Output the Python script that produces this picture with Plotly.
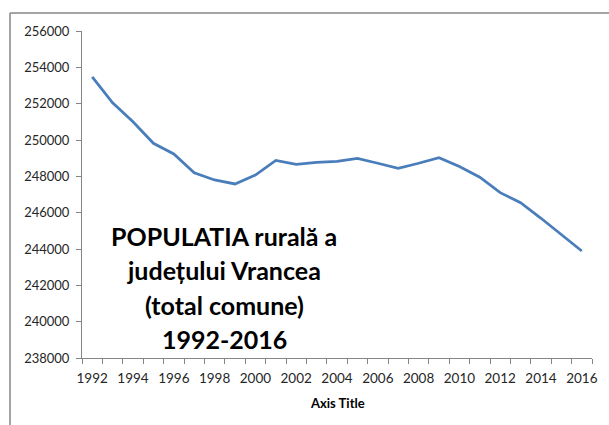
import plotly.graph_objects as go

years = list(range(1992, 2017))
population = [253480, 252050, 251000, 249820, 249230, 248200, 247800, 247580,
              248070, 248880, 248660, 248770, 248830, 248990, 248720, 248440,
              248720, 249030, 248540, 247950, 247100, 246550, 245690, 244770,
              243890]
x_tick_labels = [str(y) for y in range(1992, 2017, 2)]
title_lines = ["POPULATIA rurală a", "județului Vrancea", "(total comune)", "1992-2016"]
x_axis_title = "Axis Title"

FONT = "Lato"
GRAY = "#868686"
TXT = "#262626"

fig = go.Figure()
fig.add_trace(go.Scatter(x=years, y=population, mode="lines",
                         line=dict(color="#4A7EBB", width=2.75), showlegend=False,
                         hoverinfo="x+y"))

L, R, T, B = 82, 17, 31, 67
W, H = 609, 425
pw, ph = W - L - R, H - T - B

def px_x(px):
    return (px - L) / pw

def px_y(py):
    return (H - B - py) / ph

fig.update_layout(
    width=W, height=H,
    margin=dict(l=L, r=R, t=T, b=B, pad=0, autoexpand=False),
    paper_bgcolor="white", plot_bgcolor="white",
    font=dict(family=FONT, color=TXT, size=13),
    xaxis=dict(range=[1991.5, 2016.5], tickmode="array",
               tickvals=[int(v) for v in x_tick_labels], ticktext=x_tick_labels,
               ticks="", showgrid=False, zeroline=False,
               showline=True, linecolor=GRAY, linewidth=1,
               ticklabelstandoff=8, automargin=False,
               tickfont=dict(family=FONT, size=13.5, color=TXT),
               minor=dict(ticks="outside", tick0=1991.5, dtick=1, ticklen=5,
                          tickcolor=GRAY, tickwidth=1, showgrid=False)),
    yaxis=dict(range=[238000, 256000], dtick=2000, tick0=238000,
               tickformat="d",
               ticks="outside", ticklen=5, tickcolor=GRAY, tickwidth=1,
               showgrid=False, zeroline=False,
               showline=True, linecolor=GRAY, linewidth=1,
               ticklabelstandoff=4, automargin=False,
               tickfont=dict(family=FONT, size=13, color=TXT)),
)

# chart outer border (top and left edges visible)
fig.add_shape(type="line", xref="paper", yref="paper",
              x0=px_x(10), y0=px_y(13), x1=px_x(609), y1=px_y(13),
              line=dict(color=GRAY, width=1.5))
fig.add_shape(type="line", xref="paper", yref="paper",
              x0=px_x(10), y0=px_y(13), x1=px_x(10), y1=px_y(425),
              line=dict(color=GRAY, width=1.5))

line_y = [236, 270.3, 304.7, 339]
for txt, yy in zip(title_lines, line_y):
    fig.add_annotation(text=f"<b>{txt}</b>", xref="paper", yref="paper",
                       x=px_x(224), y=px_y(yy), xanchor="center", yanchor="middle",
                       showarrow=False, font=dict(family=FONT, size=25, color="black"))

fig.add_annotation(text=f"<b>{x_axis_title}</b>", xref="paper", yref="paper",
                   x=0.5, y=px_y(403), xanchor="center", yanchor="middle",
                   showarrow=False, font=dict(family=FONT, size=13, color="black"))

fig.write_html("out.html", config={"displayModeBar": False},
               post_script="document.body.style.margin='0';")
